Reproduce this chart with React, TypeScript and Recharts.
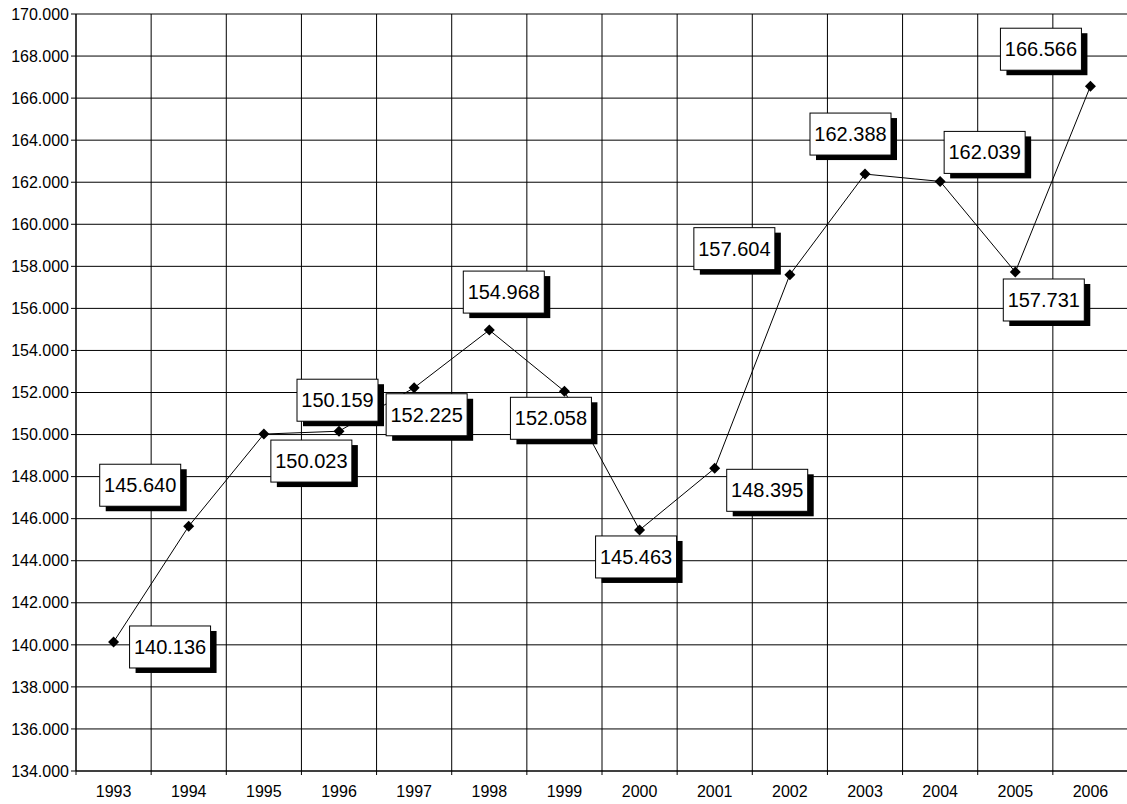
import { LineChart, Line, XAxis, YAxis, CartesianGrid, ReferenceLine } from 'recharts';

const years = [1993, 1994, 1995, 1996, 1997, 1998, 1999, 2000, 2001, 2002, 2003, 2004, 2005, 2006];
const values = [140136, 145640, 150023, 150159, 152225, 154968, 152058, 145463, 148395, 157604, 162388, 162039, 157731, 166566];
const yTicks = [134000, 136000, 138000, 140000, 142000, 144000, 146000, 148000, 150000, 152000, 154000, 156000, 158000, 160000, 162000, 164000, 166000, 168000, 170000];

// where each value box sits relative to its point (box top-left corner)
const labelOffsets: [number, number][] = [
  [16, -16], [-89, -62], [7, 6], [-42, -52], [-28, 6], [-26, -59], [-54, 6],
  [-44, 6], [12, 1], [-96, -47], [-55, -61], [4, -50], [-12, 7], [-90, -58],
];

const data = years.map((year, i) => ({ year, value: values[i] }));
const boundaries = [...years.map((y) => y - 0.5), years[years.length - 1] + 0.5];

const FONT = '"Liberation Sans", Arial, sans-serif';
const BOX_W = 81;
const BOX_H = 42;

function fmt(v: number) {
  const s = String(Math.round(v));
  return s.replace(/\B(?=(\d{3})+(?!\d))/g, '.');
}

function PointWithLabel(props: any) {
  const { cx, cy, index, value } = props;
  if (cx == null || cy == null) return <g key={`p-${index}`} />;
  const [dx, dy] = labelOffsets[index] || [0, 0];
  const bx = cx + dx;
  const by = cy + dy;
  const v = Array.isArray(value) ? value[1] : value;
  const r = 5.5;
  return (
    <g key={`p-${index}`}>
      <polygon points={`${cx},${cy - r} ${cx + r},${cy} ${cx},${cy + r} ${cx - r},${cy}`} fill="#000" />
      <rect x={bx + 6} y={by + 5} width={BOX_W} height={BOX_H} fill="#000" />
      <rect x={bx} y={by} width={BOX_W} height={BOX_H} fill="#fff" stroke="#000" strokeWidth={1} />
      <text
        x={bx + BOX_W / 2}
        y={by + BOX_H / 2}
        textAnchor="middle"
        dominantBaseline="central"
        fontFamily={FONT}
        fontSize={20}
        fill="#000"
      >
        {fmt(v)}
      </text>
    </g>
  );
}

export default function App() {
  return (
    <div style={{ position: 'absolute', left: 0, top: 0, width: 1127, height: 804, overflow: 'hidden', background: '#fff' }}>
      <LineChart width={1130} height={804} data={data} margin={{ top: 14, right: 2, bottom: 3, left: 0 }}>
        <CartesianGrid vertical={false} stroke="#000" strokeWidth={1} />
        <XAxis
          dataKey="year"
          type="number"
          domain={[1992.5, 2006.5]}
          ticks={years}
          interval={0}
          height={30}
          tickLine={false}
          tickSize={6}
          tickMargin={9}
          axisLine={{ stroke: '#000' }}
          tick={{ fill: '#000', fontSize: 16, fontFamily: FONT }}
        />
        <YAxis
          width={76}
          domain={[134000, 170000]}
          ticks={yTicks}
          interval={0}
          tickSize={5}
          tickMargin={2}
          tickLine={{ stroke: '#000' }}
          axisLine={{ stroke: '#000' }}
          tickFormatter={fmt}
          tick={{ fill: '#000', fontSize: 16, fontFamily: FONT }}
        />
        {boundaries.map((b) => (
          <ReferenceLine
            key={b}
            x={b}
            stroke="#000"
            strokeWidth={1}
            shape={(p: any) => (
              <line x1={p.x1} x2={p.x2} y1={Math.min(p.y1, p.y2)} y2={Math.max(p.y1, p.y2) + 4} stroke="#000" strokeWidth={1} />
            )}
          />
        ))}
        <Line
          type="linear"
          dataKey="value"
          stroke="#000"
          strokeWidth={1}
          dot={(p: any) => <PointWithLabel key={`p-${p.index}`} {...p} />}
          activeDot={false}
          isAnimationActive={false}
        />
      </LineChart>
    </div>
  );
}
